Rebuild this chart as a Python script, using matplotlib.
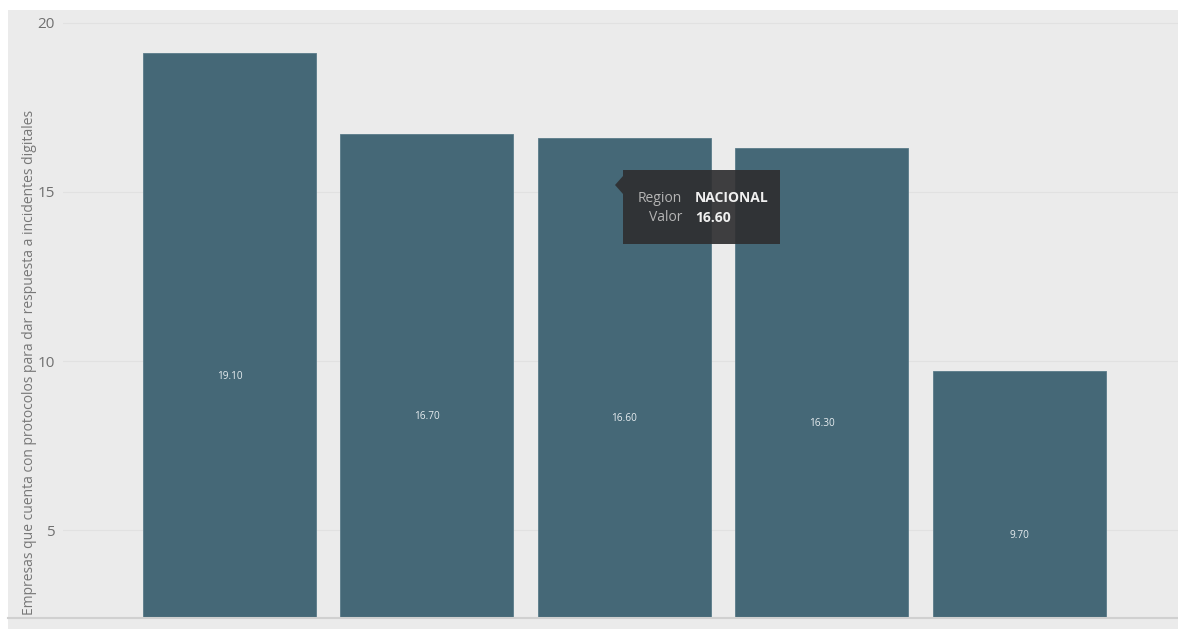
import matplotlib
matplotlib.use("Agg")
import matplotlib.pyplot as plt
from matplotlib.patches import Rectangle, Polygon
from matplotlib.lines import Line2D

regions = ["Región A", "Región B", "NACIONAL", "Región D", "Región E"]
values = [19.10, 16.70, 16.60, 16.30, 9.70]
yticks = [5, 10, 15, 20]
ylabel = "Empresas que cuenta con protocolos para dar respuesta a incidentes digitales"
tooltip_region = "NACIONAL"
tooltip_value = 16.60

plt.rcParams['font.family'] = ['Open Sans', 'DejaVu Sans']

W, H = 1178, 629
def fx(px): return px / W
def fy(py): return (H - py) / H

fig = plt.figure(figsize=(W / 100, H / 100), dpi=100, facecolor="white")
bg = "#ebebeb"
fig.patches.append(Rectangle((8 / W, 0), 1 - 8 / W, 1 - 10 / H, transform=fig.transFigure,
                             facecolor=bg, edgecolor="none", zorder=-10))

ax = fig.add_axes([63 / W, (H - 618) / H, (W - 63) / W, (618 - 10) / H])
ax.set_facecolor(bg)
x = list(range(len(regions)))
bars = ax.bar(x, values, width=0.876, color="#456877", edgecolor="#5a7b89", linewidth=0.6, zorder=3)
for xi, v in zip(x, values):
    ax.text(xi, v / 2, f"{v:.2f}", ha="center", va="center", color="#e6ecef", fontsize=7.2, zorder=4)

ax.set_xlim(-0.843, 4.805)
ax.set_ylim(2.4, 20.38)
ax.set_yticks(yticks)
ax.set_xticks([])
ax.grid(axis="y", color="#e1e1e1", linewidth=0.8, zorder=0)
for s in ["top", "right", "left", "bottom"]:
    ax.spines[s].set_visible(False)
ax.tick_params(axis="y", length=0, colors="#707070", labelsize=11, pad=6)
fig.lines.append(Line2D([fx(8), 1], [fy(618), fy(618)], transform=fig.transFigure,
                        color="#d0d0d0", linewidth=1.5, zorder=5))
fig.text(fx(30), fy(615), ylabel, rotation=90, ha="center", va="bottom", color="#777777", fontsize=10)

# tooltip
tx0, ty0, tx1, ty1 = 623, 170, 780, 244
fig.patches.append(Rectangle((fx(tx0), fy(ty1)), fx(tx1) - fx(tx0), fy(ty0) - fy(ty1),
                             transform=fig.transFigure, facecolor="#2f2f31", alpha=0.92,
                             edgecolor="none", zorder=10))
fig.patches.append(Polygon([(fx(tx0), fy(176)), (fx(615), fy(185)), (fx(tx0), fy(194))],
                           closed=True, transform=fig.transFigure, facecolor="#2f2f31",
                           alpha=0.92, edgecolor="none", zorder=10))
fig.text(fx(682), fy(198), "Region", ha="right", va="center", color="#b5b5b5", fontsize=10, zorder=11)
fig.text(fx(695), fy(198), tooltip_region, ha="left", va="center", color="#f0f0f0", fontsize=10,
         fontweight="bold", zorder=11)
fig.text(fx(682), fy(218), "Valor", ha="right", va="center", color="#b5b5b5", fontsize=10, zorder=11)
fig.text(fx(695), fy(218), f"{tooltip_value:.2f}", ha="left", va="center", color="#f0f0f0", fontsize=10,
         fontweight="bold", zorder=11)

fig.savefig("out.png", dpi=100, facecolor="white")
